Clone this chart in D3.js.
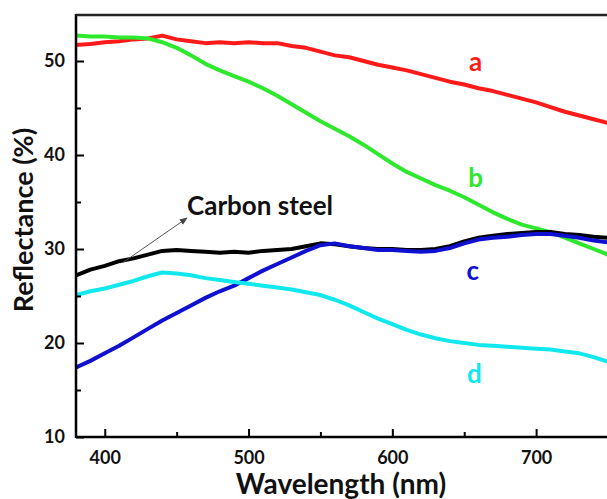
<!DOCTYPE html>
<html>
<head>
<meta charset="utf-8">
<script src="https://cdn.jsdelivr.net/npm/d3@7"></script>
<style>
  body { margin: 0; background: #fff; }
  svg text { font-family: Lato, "Open Sans", sans-serif; font-weight: bold; }
</style>
</head>
<body>
<script>
// chart data (nm, %)
const wavelengths = [380,390,400,410,420,430,440,450,460,470,480,490,500,510,520,530,540,550,560,570,
                     580,590,600,610,620,630,640,650,660,670,680,690,700,710,720,730,740,750];
const seriesA = [51.7,51.8,52.0,52.1,52.3,52.4,52.7,52.3,52.1,51.9,52.0,51.9,52.0,51.9,51.9,51.6,51.4,51.0,50.6,50.4,
                 50.0,49.6,49.3,49.0,48.6,48.2,47.8,47.5,47.1,46.8,46.4,46.0,45.6,45.1,44.6,44.2,43.8,43.4];
const seriesB = [52.7,52.6,52.6,52.5,52.5,52.4,52.0,51.4,50.6,49.7,49.0,48.4,47.8,47.1,46.3,45.4,44.5,43.6,42.8,42.0,
                 41.1,40.1,39.1,38.2,37.5,36.8,36.2,35.5,34.7,33.9,33.2,32.6,32.2,31.8,31.2,30.6,30.0,29.4];
const seriesSteel = [27.2,27.8,28.2,28.7,29.0,29.4,29.8,29.9,29.8,29.7,29.6,29.7,29.6,29.8,29.9,30.0,30.3,30.6,30.5,30.3,
                     30.1,30.0,30.0,29.9,29.9,30.0,30.3,30.8,31.2,31.4,31.6,31.7,31.8,31.8,31.6,31.5,31.3,31.2];
const seriesC = [17.4,18.1,18.9,19.7,20.6,21.5,22.4,23.2,24.0,24.8,25.5,26.1,26.9,27.7,28.4,29.1,29.8,30.4,30.6,30.3,
                 30.1,29.9,29.9,29.8,29.7,29.8,30.1,30.6,31.0,31.2,31.3,31.5,31.6,31.6,31.4,31.2,30.9,30.7];
const seriesD = [25.1,25.5,25.8,26.2,26.6,27.1,27.5,27.4,27.2,26.9,26.7,26.5,26.3,26.1,25.9,25.7,25.4,25.1,24.6,24.0,
                 23.3,22.6,22.0,21.4,20.9,20.5,20.2,20.0,19.8,19.7,19.6,19.5,19.4,19.3,19.1,18.9,18.5,18.0];
const xTicks = [400, 500, 600, 700];
const xMinor = [450, 550, 650];
const yTicks = [10, 20, 30, 40, 50];
const yMinor = [15, 25, 35, 45];

const W = 607, H = 499;
const plot = {left: 76, right: 608, top: 14, bottom: 437};

const svg = d3.select("body").append("svg")
    .attr("width", W)
    .attr("height", H);

const x = d3.scaleLinear().domain([380, 750]).range([plot.left, plot.right]);
const y = d3.scaleLinear().domain([10, 55]).range([plot.bottom, plot.top]);

const defs = svg.append("defs");
defs.append("clipPath").attr("id", "clip")
  .append("rect").attr("x", plot.left).attr("y", plot.top)
  .attr("width", plot.right - plot.left).attr("height", plot.bottom - plot.top);

const line = d3.line().x(d => x(d[0])).y(d => y(d[1]));

// curves, drawn in the order of the picture
const curves = [
  {vals: seriesA, color: "#ff1a1a"},
  {vals: seriesB, color: "#2ee82e"},
  {vals: seriesSteel, color: "#000000"},
  {vals: seriesC, color: "#1010d0"},
  {vals: seriesD, color: "#10e8ee"}
];

const g = svg.append("g").attr("clip-path", "url(#clip)");
curves.forEach(c => {
  g.append("path")
    .datum(wavelengths.map((w, i) => [w, c.vals[i]]))
    .attr("fill", "none")
    .attr("stroke", c.color)
    .attr("stroke-width", 4)
    .attr("stroke-linejoin", "round")
    .attr("d", line);
});

// axes, ticks pointing inward
svg.append("g").attr("transform", "translate(0," + plot.bottom + ")")
    .call(d3.axisBottom(x).tickValues(xTicks).tickSize(-8).tickPadding(14).tickFormat(d3.format("d")));
svg.append("g").attr("transform", "translate(0," + plot.bottom + ")")
    .call(d3.axisBottom(x).tickValues(xMinor).tickSize(-5).tickFormat(""));
svg.append("g").attr("transform", "translate(" + plot.left + ",0)")
    .call(d3.axisLeft(y).tickValues(yTicks).tickSize(-8).tickPadding(11).tickFormat(d3.format("d")));
svg.append("g").attr("transform", "translate(" + plot.left + ",0)")
    .call(d3.axisLeft(y).tickValues(yMinor).tickSize(-5).tickFormat(""));

svg.selectAll(".domain").remove();
svg.selectAll(".tick line").attr("stroke", "#000").attr("stroke-width", 2);
svg.selectAll(".tick text").attr("fill", "#111").style("font-size", "18px");

// frame
svg.append("line").attr("x1", plot.left).attr("x2", plot.left).attr("y1", plot.top).attr("y2", plot.bottom + 1)
  .attr("stroke", "#000").attr("stroke-width", 2.5);
svg.append("line").attr("x1", plot.left).attr("x2", plot.right).attr("y1", plot.bottom).attr("y2", plot.bottom)
  .attr("stroke", "#000").attr("stroke-width", 2.5);
svg.append("line").attr("x1", plot.left).attr("x2", plot.right).attr("y1", plot.top + 1).attr("y2", plot.top + 1)
  .attr("stroke", "#222").attr("stroke-width", 2.5);

// axis titles
svg.append("text")
  .attr("x", 341).attr("y", 494)
  .attr("text-anchor", "middle")
  .style("font-size", "28px")
  .attr("fill", "#111")
  .text("Wavelength (nm)");
svg.append("text")
  .attr("transform", "translate(33,220) rotate(-90)")
  .attr("text-anchor", "middle")
  .style("font-size", "27px")
  .attr("fill", "#111")
  .text("Reflectance (%)");

// curve labels
const labels = [
  {t: "a", w: 658, v: 48.9, color: "#ff1a1a"},
  {t: "b", w: 658, v: 36.6, color: "#2ee82e"},
  {t: "c", w: 656, v: 26.7, color: "#1010d0"},
  {t: "d", w: 657, v: 15.7, color: "#10e8ee"}
];
labels.forEach(l => {
  svg.append("text")
    .attr("x", x(l.w)).attr("y", y(l.v))
    .attr("text-anchor", "middle")
    .style("font-size", "26px")
    .attr("fill", l.color)
    .text(l.t);
});

// carbon steel annotation with arrow
defs.append("marker")
  .attr("id", "arrow")
  .attr("viewBox", "0 0 10 10")
  .attr("refX", 9).attr("refY", 5)
  .attr("markerWidth", 8).attr("markerHeight", 8)
  .attr("orient", "auto")
  .append("path").attr("d", "M0,1L10,5L0,9z").attr("fill", "#444");
svg.append("line")
  .attr("x1", x(413)).attr("y1", y(28.6))
  .attr("x2", 187).attr("y2", 218)
  .attr("stroke", "#555").attr("stroke-width", 1)
  .attr("marker-end", "url(#arrow)");
svg.append("text")
  .attr("x", 187).attr("y", 215)
  .style("font-size", "26px")
  .attr("fill", "#111")
  .text("Carbon steel");
</script>
</body>
</html>
